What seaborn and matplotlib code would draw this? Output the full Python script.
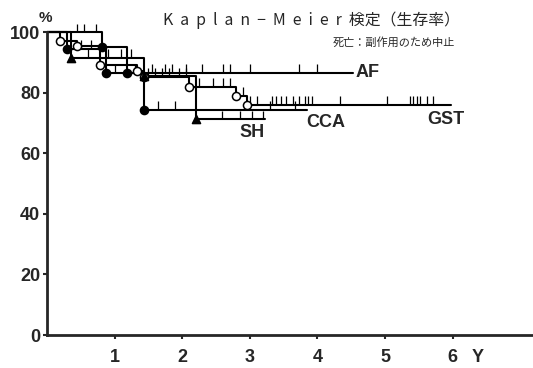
import numpy as np
import pandas as pd
import matplotlib
matplotlib.use("Agg")
import matplotlib.pyplot as plt
import seaborn as sns

# Kaplan-Meier curves (years, survival %)
af_times = [0, 0.81, 1.18]
af_surv = [100, 95, 86.6]
af_end = 4.52
af_censor = [0.45, 0.55, 0.72, 1.3, 1.55, 1.75, 1.85, 2.05, 2.3, 2.6, 2.7, 3.0, 3.73, 4.0]

gst_times = [0, 0.19, 0.44, 0.78, 1.33, 1.43, 2.1, 2.8, 2.96]
gst_surv = [100, 97, 95.5, 89, 87, 85.3, 82, 79, 76]
gst_end = 5.98
gst_censor = [1.5, 1.6, 1.7, 1.8, 1.95, 2.05, 2.25, 2.45, 2.6, 2.7, 2.9,
              3.0, 3.1, 3.33, 3.39, 3.46, 3.53, 3.64, 3.73, 3.82, 3.86, 3.92,
              4.33, 5.03, 5.37, 5.42, 5.47, 5.52, 5.62, 5.71]

cca_times = [0, 0.29, 0.88, 1.43]
cca_surv = [100, 94.5, 86.5, 74.3]
cca_end = 3.85
cca_censor = [0.5, 0.65, 1.0, 1.64, 1.89, 3.3, 3.67]

sh_times = [0, 0.36, 1.43, 2.2]
sh_surv = [100, 91.6, 85.5, 71.3]
sh_end = 3.22
sh_censor = [0.6, 0.9, 1.1, 1.25, 2.59, 2.86, 3.03, 3.2]

curves = [
    ("AF", af_times, af_surv, af_end, af_censor, "o", "black"),
    ("GST", gst_times, gst_surv, gst_end, gst_censor, "o", "white"),
    ("CCA", cca_times, cca_surv, cca_end, cca_censor, "o", "black"),
    ("SH", sh_times, sh_surv, sh_end, sh_censor, "^", "black"),
]
label_pos = {"AF": (4.56, 86.6), "GST": (5.62, 71.3), "CCA": (3.83, 70.3), "SH": (2.85, 67.0)}

sns.set_style("ticks")
plt.rcParams["font.family"] = ["Liberation Sans", "DejaVu Sans"]

fig = plt.figure(figsize=(5.33, 3.68), dpi=100)
ax = fig.add_axes([47 / 533, 33 / 368, 486 / 533, 315 / 368])

for name, t, s, end, cens, mk, fc in curves:
    df = pd.DataFrame({"t": list(t) + [end], "s": list(s) + [s[-1]]})
    sns.lineplot(data=df, x="t", y="s", drawstyle="steps-post", estimator=None,
                 sort=False, color="black", linewidth=1.5, ax=ax)
    ev = pd.DataFrame({"t": t[1:], "s": s[1:]})
    sns.scatterplot(data=ev, x="t", y="s", marker=mk, s=34, facecolor=fc,
                    edgecolor="black", linewidth=1.1, ax=ax, zorder=5)
    # censor ticks sit on the step at that time
    idx = np.searchsorted(t, cens, side="right") - 1
    lev = np.array(s)[idx]
    ax.vlines(cens, lev, lev + 2.8, color="black", linewidth=0.9)
    lx, ly = label_pos[name]
    ax.text(lx, ly, name, fontsize=13, fontweight="bold", va="center", ha="left")

ax.set_xlim(0, 7.19)
ax.set_ylim(0, 104)
ax.set_xticks([1, 2, 3, 4, 5, 6])
ax.set_yticks([0, 20, 40, 60, 80, 100])
ax.tick_params(axis="both", direction="out", length=3, width=1.5, labelsize=13)
ax.tick_params(axis="x", pad=7)
ax.tick_params(axis="y", pad=2)
for lab in ax.get_xticklabels() + ax.get_yticklabels():
    lab.set_fontweight("bold")
ax.set_xlabel("")
ax.set_ylabel("")
sns.despine(ax=ax)
ax.spines["left"].set_linewidth(2)
ax.spines["bottom"].set_linewidth(2)
ax.spines["left"].set_bounds(0, 100)

ax.text(6.37, -7.5, "Y", fontsize=13, fontweight="bold", ha="center", va="center")
ax.text(-0.03, 104.8, "%", fontsize=11, fontweight="bold", ha="center", va="center")

jp = ["Noto Sans CJK JP", "DejaVu Sans"]
fig.text(163 / 533, 1 - 20 / 368, "K  a  p  l  a  n  −  M  e  i  e  r  検定（生存率）",
         fontsize=11.4, family=jp, ha="left", va="center")
fig.text(455 / 533, 1 - 42 / 368, "死亡：副作用のため中止",
         fontsize=8, family=jp, ha="right", va="center")

fig.savefig("out.png", dpi=100)
